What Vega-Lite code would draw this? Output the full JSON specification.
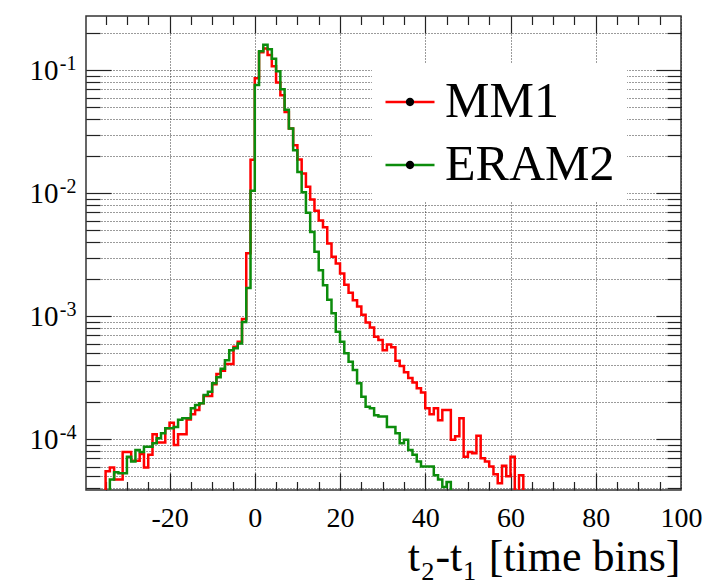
{
  "$schema": "https://vega.github.io/schema/vega-lite/v6.json",
  "width": 595,
  "height": 474,
  "autosize": "none",
  "padding": {"left": 86, "top": 16, "right": 26, "bottom": 92},
  "background": "white",
  "config": {
    "view": {"stroke": "#333", "strokeWidth": 1.5},
    "axis": {
      "domain": false,
      "tickColor": "#222",
      "tickWidth": 1.2,
      "gridColor": "#222",
      "gridDash": [1, 2],
      "gridWidth": 1,
      "gridOpacity": 0.9,
      "labelFont": "Liberation Serif",
      "labelColor": "#000",
      "titleFont": "Liberation Serif",
      "titleFontWeight": "normal",
      "titleColor": "#000"
    }
  },
  "datasets": {
    "h": [
      {"s":"MM1","t":-36,"v":1e-6},{"s":"MM1","t":-35,"v":5.5e-5},{"s":"MM1","t":-34,"v":5.9e-5},{"s":"MM1","t":-33,"v":4.7e-5},{"s":"MM1","t":-32,"v":4.7e-5},
      {"s":"MM1","t":-31,"v":7.9e-5},{"s":"MM1","t":-30,"v":7.9e-5},{"s":"MM1","t":-29,"v":6.7e-5},{"s":"MM1","t":-28,"v":6.7e-5},{"s":"MM1","t":-27,"v":7.6e-5},
      {"s":"MM1","t":-26,"v":5.9e-5},{"s":"MM1","t":-25,"v":7.5e-5},{"s":"MM1","t":-24,"v":1.1e-4},{"s":"MM1","t":-23,"v":9.4e-5},{"s":"MM1","t":-22,"v":9.4e-5},
      {"s":"MM1","t":-21,"v":1.23e-4},{"s":"MM1","t":-20,"v":1.36e-4},{"s":"MM1","t":-19,"v":9.0e-5},{"s":"MM1","t":-18,"v":1.1e-4},{"s":"MM1","t":-17,"v":1.1e-4},
      {"s":"MM1","t":-16,"v":1.45e-4},{"s":"MM1","t":-15,"v":1.6e-4},{"s":"MM1","t":-14,"v":1.73e-4},{"s":"MM1","t":-13,"v":1.96e-4},{"s":"MM1","t":-12,"v":2.25e-4},
      {"s":"MM1","t":-11,"v":2.25e-4},{"s":"MM1","t":-10,"v":2.8e-4},{"s":"MM1","t":-9,"v":3.4e-4},{"s":"MM1","t":-8,"v":3.6e-4},{"s":"MM1","t":-7,"v":4.1e-4},
      {"s":"MM1","t":-6,"v":4.1e-4},{"s":"MM1","t":-5,"v":5.65e-4},{"s":"MM1","t":-4,"v":6.2e-4},{"s":"MM1","t":-3,"v":9.5e-4},{"s":"MM1","t":-2,"v":3.25e-3},
      {"s":"MM1","t":-1,"v":0.0187},{"s":"MM1","t":0,"v":0.086},{"s":"MM1","t":1,"v":0.14},{"s":"MM1","t":2,"v":0.15},{"s":"MM1","t":3,"v":0.133},
      {"s":"MM1","t":4,"v":0.108},{"s":"MM1","t":5,"v":0.0795},{"s":"MM1","t":6,"v":0.0626},{"s":"MM1","t":7,"v":0.0458},{"s":"MM1","t":8,"v":0.0336},
      {"s":"MM1","t":9,"v":0.0246},{"s":"MM1","t":10,"v":0.0188},{"s":"MM1","t":11,"v":0.0145},{"s":"MM1","t":12,"v":0.0113},{"s":"MM1","t":13,"v":0.0089},
      {"s":"MM1","t":14,"v":0.0072},{"s":"MM1","t":15,"v":0.006},{"s":"MM1","t":16,"v":0.0053},{"s":"MM1","t":17,"v":0.0039},{"s":"MM1","t":18,"v":0.00304},
      {"s":"MM1","t":19,"v":0.00269},{"s":"MM1","t":20,"v":0.00223},{"s":"MM1","t":21,"v":0.0018},{"s":"MM1","t":22,"v":0.00155},{"s":"MM1","t":23,"v":0.00135},
      {"s":"MM1","t":24,"v":0.0012},{"s":"MM1","t":25,"v":0.00103},{"s":"MM1","t":26,"v":0.00089},{"s":"MM1","t":27,"v":0.00081},{"s":"MM1","t":28,"v":0.00068},
      {"s":"MM1","t":29,"v":0.00064},{"s":"MM1","t":30,"v":0.00053},{"s":"MM1","t":31,"v":0.00059},{"s":"MM1","t":32,"v":0.00056},{"s":"MM1","t":33,"v":0.000435},
      {"s":"MM1","t":34,"v":0.000395},{"s":"MM1","t":35,"v":0.00035},{"s":"MM1","t":36,"v":0.000315},{"s":"MM1","t":37,"v":0.00029},{"s":"MM1","t":38,"v":0.00026},
      {"s":"MM1","t":39,"v":0.00024},{"s":"MM1","t":40,"v":0.000179},{"s":"MM1","t":41,"v":0.00016},{"s":"MM1","t":42,"v":0.000179},{"s":"MM1","t":43,"v":0.000143},
      {"s":"MM1","t":44,"v":0.000173},{"s":"MM1","t":45,"v":0.000173},{"s":"MM1","t":46,"v":0.000099},{"s":"MM1","t":47,"v":0.000106},{"s":"MM1","t":48,"v":0.000148},
      {"s":"MM1","t":49,"v":0.000072},{"s":"MM1","t":50,"v":0.000079},{"s":"MM1","t":51,"v":0.000077},{"s":"MM1","t":52,"v":0.000107},{"s":"MM1","t":53,"v":0.00007},
      {"s":"MM1","t":54,"v":0.000066},{"s":"MM1","t":55,"v":0.00006},{"s":"MM1","t":56,"v":0.000052},{"s":"MM1","t":57,"v":0.000044},{"s":"MM1","t":58,"v":0.000061},
      {"s":"MM1","t":59,"v":0.00005},{"s":"MM1","t":60,"v":0.000072},{"s":"MM1","t":61,"v":1e-6},{"s":"MM1","t":62,"v":0.000051},{"s":"MM1","t":63,"v":1e-6},
      {"s":"ERAM2","t":-35,"v":1e-6},{"s":"ERAM2","t":-34,"v":4.7e-5},{"s":"ERAM2","t":-33,"v":5.4e-5},{"s":"ERAM2","t":-32,"v":5.3e-5},{"s":"ERAM2","t":-31,"v":5.3e-5},
      {"s":"ERAM2","t":-30,"v":7.2e-5},{"s":"ERAM2","t":-29,"v":6.6e-5},{"s":"ERAM2","t":-28,"v":8.2e-5},{"s":"ERAM2","t":-27,"v":7.9e-5},{"s":"ERAM2","t":-26,"v":8.7e-5},
      {"s":"ERAM2","t":-25,"v":8.7e-5},{"s":"ERAM2","t":-24,"v":9.3e-5},{"s":"ERAM2","t":-23,"v":1.02e-4},{"s":"ERAM2","t":-22,"v":1.12e-4},{"s":"ERAM2","t":-21,"v":1.23e-4},
      {"s":"ERAM2","t":-20,"v":1.23e-4},{"s":"ERAM2","t":-19,"v":1.26e-4},{"s":"ERAM2","t":-18,"v":1.44e-4},{"s":"ERAM2","t":-17,"v":1.48e-4},{"s":"ERAM2","t":-16,"v":1.48e-4},
      {"s":"ERAM2","t":-15,"v":1.79e-4},{"s":"ERAM2","t":-14,"v":1.9e-4},{"s":"ERAM2","t":-13,"v":1.96e-4},{"s":"ERAM2","t":-12,"v":2.29e-4},{"s":"ERAM2","t":-11,"v":2.44e-4},
      {"s":"ERAM2","t":-10,"v":2.85e-4},{"s":"ERAM2","t":-9,"v":3.2e-4},{"s":"ERAM2","t":-8,"v":3.75e-4},{"s":"ERAM2","t":-7,"v":4.4e-4},{"s":"ERAM2","t":-6,"v":5.3e-4},
      {"s":"ERAM2","t":-5,"v":5.5e-4},{"s":"ERAM2","t":-4,"v":6.0e-4},{"s":"ERAM2","t":-3,"v":9.0e-4},{"s":"ERAM2","t":-2,"v":1.7e-3},{"s":"ERAM2","t":-1,"v":0.0105},
      {"s":"ERAM2","t":0,"v":0.076},{"s":"ERAM2","t":1,"v":0.143},{"s":"ERAM2","t":2,"v":0.161},{"s":"ERAM2","t":3,"v":0.148},{"s":"ERAM2","t":4,"v":0.124},
      {"s":"ERAM2","t":5,"v":0.098},{"s":"ERAM2","t":6,"v":0.07},{"s":"ERAM2","t":7,"v":0.0478},{"s":"ERAM2","t":8,"v":0.0336},{"s":"ERAM2","t":9,"v":0.0224},
      {"s":"ERAM2","t":10,"v":0.0149},{"s":"ERAM2","t":11,"v":0.0102},{"s":"ERAM2","t":12,"v":0.00695},{"s":"ERAM2","t":13,"v":0.00485},{"s":"ERAM2","t":14,"v":0.00334},
      {"s":"ERAM2","t":15,"v":0.00237},{"s":"ERAM2","t":16,"v":0.00179},{"s":"ERAM2","t":17,"v":0.00136},{"s":"ERAM2","t":18,"v":0.00106},{"s":"ERAM2","t":19,"v":0.00075},
      {"s":"ERAM2","t":20,"v":0.00062},{"s":"ERAM2","t":21,"v":0.0005},{"s":"ERAM2","t":22,"v":0.000427},{"s":"ERAM2","t":23,"v":0.000366},{"s":"ERAM2","t":24,"v":0.000285},
      {"s":"ERAM2","t":25,"v":0.000222},{"s":"ERAM2","t":26,"v":0.000184},{"s":"ERAM2","t":27,"v":0.000179},{"s":"ERAM2","t":28,"v":0.000157},{"s":"ERAM2","t":29,"v":0.000153},
      {"s":"ERAM2","t":30,"v":0.000153},{"s":"ERAM2","t":31,"v":0.000126},{"s":"ERAM2","t":32,"v":0.000126},{"s":"ERAM2","t":33,"v":0.000112},{"s":"ERAM2","t":34,"v":0.000093},
      {"s":"ERAM2","t":35,"v":0.000099},{"s":"ERAM2","t":36,"v":0.000082},{"s":"ERAM2","t":37,"v":0.000075},{"s":"ERAM2","t":38,"v":0.000066},{"s":"ERAM2","t":39,"v":0.00006},
      {"s":"ERAM2","t":40,"v":0.00006},{"s":"ERAM2","t":41,"v":0.00006},{"s":"ERAM2","t":42,"v":0.000051},{"s":"ERAM2","t":43,"v":0.000047},{"s":"ERAM2","t":44,"v":0.000041},
      {"s":"ERAM2","t":45,"v":0.000045},{"s":"ERAM2","t":46,"v":1e-6}
    ],
    "leg": [{"name": "MM1"}, {"name": "ERAM2"}]
  },
  "resolve": {"axis": {"x": "independent", "y": "independent"}},
  "layer": [
    {
      "data": {"name": "h"},
      "mark": {"type": "line", "interpolate": "step-after", "strokeWidth": 2.5, "clip": true},
      "encoding": {
        "x": {"field": "t", "type": "quantitative",
          "scale": {"domain": [-39.6, 100], "nice": false, "zero": false},
          "axis": {"orient": "bottom", "values": [-20, 0, 20, 40, 60, 80, 100], "ticks": false, "grid": true,
            "labelExpr": "'' + datum.value",
            "labelFontSize": 28, "labelPadding": 14, "labelFlush": false, "labelOverlap": false,
            "title": "t₂-t₁ [time bins]", "titleFontSize": 44, "titleAnchor": "end", "titleAlign": "right",
            "titleBaseline": "alphabetic", "titleX": 594, "titleY": 80}},
        "y": {"field": "v", "type": "quantitative",
          "scale": {"type": "log", "domain": [3.87e-5, 0.276], "nice": false},
          "axis": {"orient": "left", "values": [0.0001, 0.001, 0.01, 0.1], "ticks": false, "grid": true,
            "labelExpr": "'10'", "labelFontSize": 29, "labelPadding": 28, "labelBaseline": "middle", "title": null}},
        "color": {"field": "s", "type": "nominal",
          "scale": {"domain": ["MM1", "ERAM2"], "range": ["#ff0000", "#0c8c0c"]},
          "legend": {"orient": "none", "legendX": 286, "legendY": 48, "title": null, "fillColor": "white",
            "padding": 12, "symbolType": "M-1,0L1,0", "symbolSize": 2401, "symbolStrokeWidth": 2.5,
            "labelFont": "Liberation Serif", "labelFontSize": 50, "labelColor": "#000", "labelOffset": 9,
            "rowPadding": 12, "labelLimit": 400, "zindex": 0}}
      }
    },
    {
      "data": {"name": "h"},
      "mark": {"type": "line", "opacity": 0},
      "encoding": {
        "x": {"field": "t", "type": "quantitative",
          "scale": {"domain": [-39.6, 100], "nice": false, "zero": false},
          "axis": {"orient": "bottom", "values": [-20, 0, 20, 40, 60, 80], "labels": false, "grid": false, "tickSize": -17, "title": null}},
        "y": {"field": "v", "type": "quantitative",
          "scale": {"type": "log", "domain": [3.87e-5, 0.276], "nice": false},
          "axis": {"orient": "left", "values": [0.0001, 0.001, 0.01, 0.1], "ticks": false, "grid": false,
            "labelExpr": "'-' + round(-log(datum.value)/LN10)", "labelFontSize": 20, "labelPadding": 10,
            "labelOffset": -7, "labelBaseline": "middle", "title": null}},
        "detail": {"field": "s"}
      }
    },
    {
      "data": {"name": "h"},
      "mark": {"type": "line", "opacity": 0},
      "encoding": {
        "x": {"field": "t", "type": "quantitative",
          "scale": {"domain": [-39.6, 100], "nice": false, "zero": false},
          "axis": {"orient": "bottom", "values": [-35, -30, -25, -15, -10, -5, 5, 10, 15, 25, 30, 35, 45, 50, 55, 65, 70, 75, 85, 90, 95], "labels": false, "grid": false, "tickSize": -8.5, "title": null}},
        "y": {"field": "v", "type": "quantitative",
          "scale": {"type": "log", "domain": [3.87e-5, 0.276], "nice": false},
          "axis": {"orient": "left", "values": [0.0001, 0.001, 0.01, 0.1], "labels": false, "grid": false, "tickSize": -25, "title": null}},
        "detail": {"field": "s"}
      }
    },
    {
      "data": {"name": "h"},
      "mark": {"type": "line", "opacity": 0},
      "encoding": {
        "x": {"field": "t", "type": "quantitative",
          "scale": {"domain": [-39.6, 100], "nice": false, "zero": false},
          "axis": {"orient": "top", "values": [-20, 0, 20, 40, 60, 80], "labels": false, "grid": false, "tickSize": -17, "title": null}},
        "y": {"field": "v", "type": "quantitative",
          "scale": {"type": "log", "domain": [3.87e-5, 0.276], "nice": false},
          "axis": {"orient": "left", "values": [0.00004, 0.00005, 0.00006, 0.00007, 0.00008, 0.00009, 0.0002, 0.0003, 0.0004, 0.0005, 0.0006, 0.0007, 0.0008, 0.0009, 0.002, 0.003, 0.004, 0.005, 0.006, 0.007, 0.008, 0.009, 0.02, 0.03, 0.04, 0.05, 0.06, 0.07, 0.08, 0.09, 0.2],
            "labels": false, "grid": true, "tickSize": -14, "title": null}},
        "detail": {"field": "s"}
      }
    },
    {
      "data": {"name": "h"},
      "mark": {"type": "line", "opacity": 0},
      "encoding": {
        "x": {"field": "t", "type": "quantitative",
          "scale": {"domain": [-39.6, 100], "nice": false, "zero": false},
          "axis": {"orient": "top", "values": [-35, -30, -25, -15, -10, -5, 5, 10, 15, 25, 30, 35, 45, 50, 55, 65, 70, 75, 85, 90, 95], "labels": false, "grid": false, "tickSize": -8.5, "title": null}},
        "y": {"field": "v", "type": "quantitative",
          "scale": {"type": "log", "domain": [3.87e-5, 0.276], "nice": false},
          "axis": {"orient": "right", "values": [0.0001, 0.001, 0.01, 0.1], "labels": false, "grid": false, "tickSize": -25, "title": null}},
        "detail": {"field": "s"}
      }
    },
    {
      "data": {"name": "h"},
      "mark": {"type": "line", "opacity": 0},
      "encoding": {
        "x": {"field": "t", "type": "quantitative",
          "scale": {"domain": [-39.6, 100], "nice": false, "zero": false}, "axis": null},
        "y": {"field": "v", "type": "quantitative",
          "scale": {"type": "log", "domain": [3.87e-5, 0.276], "nice": false},
          "axis": {"orient": "right", "values": [0.00004, 0.00005, 0.00006, 0.00007, 0.00008, 0.00009, 0.0002, 0.0003, 0.0004, 0.0005, 0.0006, 0.0007, 0.0008, 0.0009, 0.002, 0.003, 0.004, 0.005, 0.006, 0.007, 0.008, 0.009, 0.02, 0.03, 0.04, 0.05, 0.06, 0.07, 0.08, 0.09, 0.2],
            "labels": false, "grid": false, "tickSize": -14, "title": null}},
        "detail": {"field": "s"}
      }
    },
    {
      "data": {"name": "leg"},
      "mark": {"type": "point", "filled": true, "color": "black", "opacity": 0},
      "encoding": {
        "shape": {"field": "name", "type": "nominal", "sort": null,
          "scale": {"range": ["M0.17,0A0.17,0.17,0,1,1,-0.17,0A0.17,0.17,0,1,1,0.17,0Z", "M0.17,0A0.17,0.17,0,1,1,-0.17,0A0.17,0.17,0,1,1,0.17,0Z"]},
          "legend": {"orient": "none", "legendX": 286, "legendY": 48, "title": null,
            "padding": 12, "symbolSize": 2401, "symbolStrokeWidth": 2.5, "symbolFillColor": "black", "symbolStrokeColor": "black",
            "labelFont": "Liberation Serif", "labelFontSize": 50, "labelOpacity": 0, "labelOffset": 9,
            "rowPadding": 12, "labelLimit": 400, "zindex": 1,
            "encode": {"symbols": {"update": {"opacity": {"value": 1}, "fill": {"value": "black"}, "stroke": {"value": "black"}}}}}}
      }
    }
  ]
}
